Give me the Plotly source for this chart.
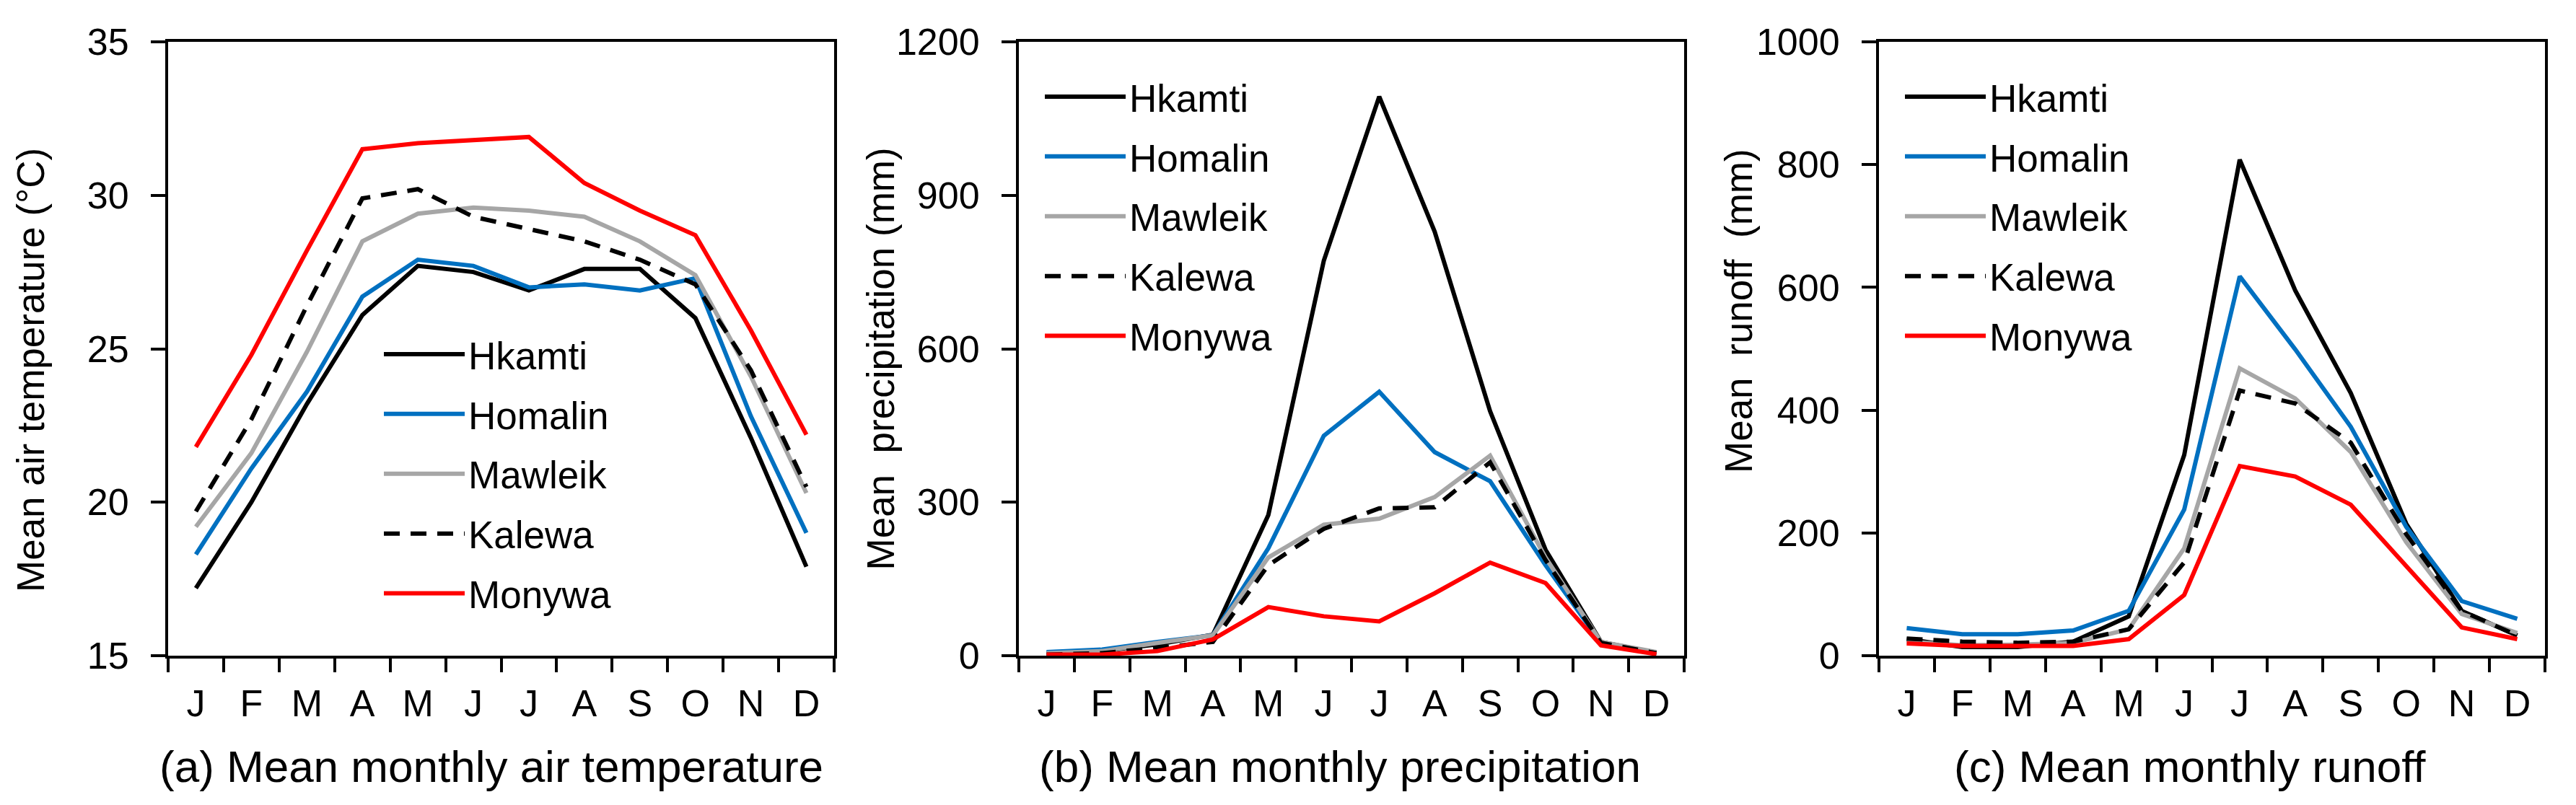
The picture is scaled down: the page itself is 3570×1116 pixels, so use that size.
import plotly.graph_objects as go

months = ["J", "F", "M", "A", "M", "J", "J", "A", "S", "O", "N", "D"]
month_idx = list(range(1, 13))
stations = ["Hkamti", "Homalin", "Mawleik", "Kalewa", "Monywa"]

# (a) Mean monthly air temperature (°C)
temp_hkamti = [17.2, 20.0, 23.2, 26.1, 27.7, 27.5, 26.9, 27.6, 27.6, 26.0, 22.1, 17.9]
temp_homalin = [18.3, 21.1, 23.6, 26.7, 27.9, 27.7, 27.0, 27.1, 26.9, 27.3, 22.8, 19.0]
temp_mawleik = [19.2, 21.6, 24.9, 28.5, 29.4, 29.6, 29.5, 29.3, 28.5, 27.4, 24.1, 20.3]
temp_kalewa = [19.7, 22.7, 26.4, 29.9, 30.2, 29.3, 28.9, 28.5, 27.9, 27.1, 24.3, 20.5]
temp_monywa = [21.8, 24.8, 28.2, 31.5, 31.7, 31.8, 31.9, 30.4, 29.5, 28.7, 25.6, 22.2]

# (b) Mean monthly precipitation (mm)
prcp_hkamti = [5, 9, 22, 41, 275, 772, 1093, 829, 478, 207, 27, 5]
prcp_homalin = [7, 12, 27, 40, 210, 430, 516, 398, 341, 177, 25, 5]
prcp_mawleik = [5, 9, 25, 40, 192, 256, 268, 310, 391, 192, 27, 7]
prcp_kalewa = [2, 5, 15, 27, 177, 248, 288, 290, 378, 187, 25, 5]
prcp_monywa = [2, 2, 9, 32, 95, 77, 67, 122, 182, 142, 20, 3]

# (c) Mean monthly runoff (mm)
roff_hkamti = [27, 14, 14, 23, 64, 327, 808, 595, 428, 215, 73, 33]
roff_homalin = [45, 35, 35, 41, 73, 238, 618, 499, 373, 210, 89, 60]
roff_mawleik = [23, 17, 18, 21, 43, 175, 468, 419, 332, 185, 68, 37]
roff_kalewa = [28, 23, 21, 23, 43, 152, 432, 411, 347, 198, 73, 33]
roff_monywa = [20, 16, 16, 16, 27, 99, 309, 292, 246, 145, 46, 27]

panels = [
    [temp_hkamti, temp_homalin, temp_mawleik, temp_kalewa, temp_monywa],
    [prcp_hkamti, prcp_homalin, prcp_mawleik, prcp_kalewa, prcp_monywa],
    [roff_hkamti, roff_homalin, roff_mawleik, roff_kalewa, roff_monywa],
]
y_ranges = [[15, 35], [0, 1200], [0, 1000]]
y_dticks = [5, 300, 200]
y_titles = ["Mean air temperature (°C)",
            "Mean\u00a0\u00a0precipitation (mm)",
            "Mean\u00a0\u00a0runoff\u00a0\u00a0(mm)"]
x_titles = ["(a) Mean monthly air temperature",
            "(b) Mean monthly precipitation",
            "(c) Mean monthly runoff"]

styles = {
    "Hkamti": dict(color="#000000", dash="solid"),
    "Homalin": dict(color="#0070C0", dash="solid"),
    "Mawleik": dict(color="#A6A6A6", dash="solid"),
    "Kalewa": dict(color="#000000", dash="22px,15px"),
    "Monywa": dict(color="#FF0000", dash="solid"),
}

W, H = 3570, 1116
FONT = "Arial, Liberation Sans, sans-serif"
x_domains = [[233 / W, 1156 / W], [1412 / W, 2334 / W], [2604 / W, 3527 / W]]
y_domain = [1 - 909 / H, 1 - 58 / H]

fig = go.Figure()
legend_names = ["legend", "legend2", "legend3"]
for p, series in enumerate(panels):
    sfx = "" if p == 0 else str(p + 1)
    for name, vals in zip(stations, series):
        st = styles[name]
        fig.add_trace(go.Scatter(
            x=month_idx, y=vals, mode="lines", name=name,
            line=dict(color=st["color"], width=6, dash=st["dash"]),
            xaxis="x" + sfx, yaxis="y" + sfx,
            legend=legend_names[p], legendgroup=f"{p}_{name}",
            showlegend=True,
        ))

layout = dict(
    width=W, height=H,
    margin=dict(l=0, r=0, t=0, b=0, pad=0, autoexpand=False),
    paper_bgcolor="white", plot_bgcolor="white",
    font=dict(family=FONT, size=52, color="black"),
    showlegend=True,
)

minor_vals = [i + 0.5 for i in range(0, 13)]
for p in range(3):
    sfx = "" if p == 0 else str(p + 1)
    layout["xaxis" + sfx] = dict(
        domain=x_domains[p], anchor="y" + sfx, range=[0.5, 12.5],
        tickmode="array", tickvals=month_idx, ticktext=months,
        ticks="", showgrid=False, zeroline=False, automargin=False,
        showline=True, linecolor="black", linewidth=4, mirror=True,
        tickfont=dict(size=52), ticklabelstandoff=18,
        minor=dict(tickmode="array", tickvals=minor_vals, ticks="outside",
                   ticklen=19, tickwidth=4, tickcolor="black", showgrid=False),
    )
    layout["yaxis" + sfx] = dict(
        domain=y_domain, anchor="x" + sfx, range=y_ranges[p], dtick=y_dticks[p],
        ticks="outside", ticklen=20, tickwidth=4, tickcolor="black",
        showgrid=False, zeroline=False, automargin=False,
        showline=True, linecolor="black", linewidth=4, mirror=True,
        tickfont=dict(size=52), ticklabelstandoff=20,
    )

legend_pos = [(532 - 5) / W, (1448 - 5) / W, (2640 - 5) / W]
legend_top = [490, 133, 133]
for p in range(3):
    layout[legend_names[p]] = dict(
        x=legend_pos[p], xanchor="left", xref="paper",
        y=1 - (legend_top[p] - 40) / H, yanchor="top", yref="paper",
        bgcolor="rgba(0,0,0,0)", borderwidth=0,
        font=dict(family=FONT, size=53, color="black"),
        itemwidth=112, tracegroupgap=11, traceorder="grouped",
    )

annotations = []
ytitle_x = [42 / W, 1219.5 / W, 2410 / W]
ytitle_y = [1 - 513 / H, 1 - 498 / H, 1 - 431 / H]
xtitle_x = [680.6 / W, 1856.6 / W, 3035 / W]
for p in range(3):
    annotations.append(dict(
        text=y_titles[p], x=ytitle_x[p], y=ytitle_y[p], xref="paper", yref="paper",
        xanchor="center", yanchor="middle", textangle=-90, showarrow=False,
        font=dict(family=FONT, size=53, color="black"),
    ))
    annotations.append(dict(
        text=x_titles[p], x=xtitle_x[p], y=1 - 1062 / H, xref="paper", yref="paper",
        xanchor="center", yanchor="middle", showarrow=False,
        font=dict(family=FONT, size=62, color="black"),
    ))
layout["annotations"] = annotations

fig.update_layout(**layout)
fig.write_html("out.html", config={"displayModeBar": False},
               post_script="document.body.style.margin='0';document.body.style.overflow='hidden';")
